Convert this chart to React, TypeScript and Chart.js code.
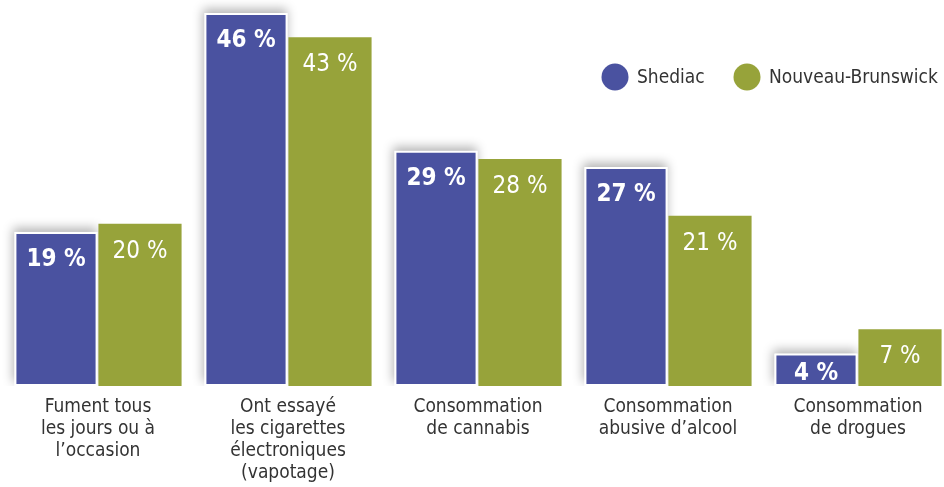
import React, { useEffect, useRef } from "react";
import { Chart, registerables } from "chart.js";

Chart.register(...registerables);

const categories: string[][] = [
  ["Fument tous", "les jours ou à", "l’occasion"],
  ["Ont essayé", "les cigarettes", "électroniques", "(vapotage)"],
  ["Consommation", "de cannabis"],
  ["Consommation", "abusive d’alcool"],
  ["Consommation", "de drogues"],
];
const shediac: number[] = [19, 46, 29, 27, 4];
const nouveauBrunswick: number[] = [20, 43, 28, 21, 7];
const seriesNames: string[] = ["Shediac", "Nouveau-Brunswick"];

const BLUE = "#4a52a0";
const GREEN = "#97a33a";
const FONT = "'Liberation Sans Narrow', 'Arial Narrow', 'DejaVu Sans Condensed', sans-serif";

const shadowPlugin = {
  id: "barShadow",
  beforeDatasetsDraw(chart: any) {
    const ctx = chart.ctx;
    const meta = chart.getDatasetMeta(0);
    const area = chart.chartArea;
    ctx.save();
    ctx.beginPath();
    ctx.rect(0, 0, chart.width, area.bottom);
    ctx.clip();
    ctx.shadowColor = "rgba(0,0,0,0.3)";
    ctx.shadowBlur = 10;
    ctx.shadowOffsetX = -1;
    ctx.shadowOffsetY = -4;
    ctx.fillStyle = "#ffffff";
    meta.data.forEach((bar: any) => {
      const w = bar.width;
      ctx.fillRect(bar.x - w / 2, bar.y, w, bar.base - bar.y);
    });
    ctx.restore();
  },
};

const valueLabelPlugin = {
  id: "valueLabels",
  afterDatasetsDraw(chart: any) {
    const ctx = chart.ctx;
    ctx.save();
    ctx.fillStyle = "#ffffff";
    ctx.textAlign = "center";
    ctx.textBaseline = "alphabetic";
    chart.data.datasets.forEach((ds: any, di: number) => {
      const meta = chart.getDatasetMeta(di);
      ctx.font = `${di === 0 ? "bold " : ""}24px ${FONT}`;
      meta.data.forEach((bar: any, i: number) => {
        const y = Math.min(bar.y + 34, bar.base - 6);
        ctx.fillText(`${ds.data[i]} %`, bar.x, y);
      });
    });
    ctx.restore();
  },
};

const legendPlugin = {
  id: "customLegend",
  afterDraw(chart: any) {
    const ctx = chart.ctx;
    ctx.save();
    ctx.font = `19px ${FONT}`;
    ctx.textBaseline = "middle";
    ctx.textAlign = "left";
    const cy = 77;
    const r = 13.5;
    const centers = [615, 747];
    chart.data.datasets.forEach((d: any, i: number) => {
      const cx = centers[i];
      ctx.fillStyle = d.backgroundColor;
      ctx.beginPath();
      ctx.arc(cx, cy, r, 0, Math.PI * 2);
      ctx.fill();
      ctx.fillStyle = "#333333";
      ctx.fillText(d.label, cx + 22, cy + 1);
    });
    ctx.restore();
  },
};

export default function App() {
  const ref = useRef<HTMLCanvasElement | null>(null);
  useEffect(() => {
    if (!ref.current) return;
    const chart = new Chart(ref.current, {
      type: "bar",
      data: {
        labels: categories,
        datasets: [
          {
            label: seriesNames[0],
            data: shediac,
            backgroundColor: BLUE,
            borderColor: "#ffffff",
            borderWidth: 2,
            borderSkipped: false,
            categoryPercentage: 168 / 190,
            barPercentage: 0.99,
            clip: false as any,
          },
          {
            label: seriesNames[1],
            data: nouveauBrunswick,
            backgroundColor: GREEN,
            borderWidth: 0,
            categoryPercentage: 168 / 190,
            barPercentage: 0.99,
            clip: false as any,
          },
        ],
      },
      options: {
        responsive: false,
        animation: false,
        layout: { padding: { left: 98, right: 86, top: 13, bottom: 0 } },
        plugins: {
          legend: { display: false },
          tooltip: { enabled: false },
        },
        scales: {
          x: {
            offset: false,
            grid: { display: false, drawTicks: false, offset: false },
            border: { display: false },
            ticks: {
              autoSkip: false,
              maxRotation: 0,
              minRotation: 0,
              padding: 10,
              color: "#333333",
              font: { family: FONT, size: 19, lineHeight: 1.16 },
            },
            afterFit(scale: any) {
              scale.height = 101;
            },
          },
          y: {
            display: false,
            min: 0,
            max: 46,
          },
        },
      },
      plugins: [shadowPlugin, valueLabelPlugin, legendPlugin],
    });
    return () => chart.destroy();
  }, []);
  return (
    <div style={{ position: "fixed", left: 0, top: 0, width: 944, height: 487, background: "#fff" }}>
      <canvas ref={ref} width={944} height={487} style={{ display: "block" }} />
    </div>
  );
}
